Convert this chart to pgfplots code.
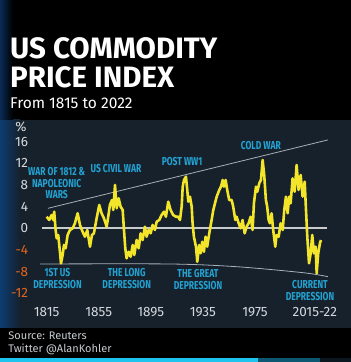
\documentclass[border=0pt]{standalone}
\usepackage{pgfplots}
\pgfplotsset{compat=1.18}
\usepackage{fontspec}
\setmainfont{Fira Sans}
\newfontfamily\condfont[FakeStretch=0.74]{Fira Sans}
\definecolor{bgpanel}{HTML}{16212C}
\definecolor{glowblue}{HTML}{0C3D72}
\definecolor{glowdark}{HTML}{0A2A55}
\definecolor{ylw}{HTML}{F2E52A}
\definecolor{cyanlbl}{HTML}{23A3D3}
\definecolor{tickgray}{HTML}{D5D9DE}
\definecolor{negor}{HTML}{E0651E}
\definecolor{trend}{HTML}{A8B0B8}
\definecolor{zeroline}{HTML}{C9CCCF}
\definecolor{cyanbar}{HTML}{1EC3EE}
\definecolor{tealbar}{HTML}{0C5872}
\definecolor{darkbar}{HTML}{0B1820}
\definecolor{foot}{HTML}{C8CCD0}

\pgfplotstableread{
x y
1815.0 2.14
1817.0 1.53
1818.8 2.45
1820.1 1.53
1820.8 3.06
1821.9 -0.31
1822.7 -1.85
1823.9 -1.24
1825.2 -4.32
1826.0 -6.46
1827.3 -4.93
1828.3 -3.08
1829.6 -3.69
1831.1 -1.24
1832.9 -0.31
1835.0 0.00
1836.7 0.92
1838.8 2.77
1840.6 0.61
1842.6 -0.63
1844.4 -1.55
1846.2 -0.31
1848.3 -3.39
1849.8 -1.24
1851.3 -0.92
1853.4 1.85
1855.4 4.30
1857.2 2.77
1859.0 1.85
1861.1 0.30
1862.3 2.14
1863.6 4.30
1865.2 5.22
1866.2 3.38
1867.5 7.99
1868.8 3.69
1870.3 5.54
1871.8 3.99
1873.4 3.38
1874.4 -0.31
1875.4 -3.69
1876.4 -5.54
1878.0 -4.32
1879.5 -5.24
1881.1 -3.08
1882.3 -4.93
1884.1 -2.16
1885.7 -3.69
1887.2 -0.92
1888.7 -2.16
1890.5 0.30
1891.8 -1.55
1893.3 -0.31
1894.9 -0.92
1896.4 0.61
1898.2 -0.31
1899.5 1.22
1901.5 1.53
1903.3 2.45
1905.1 3.06
1906.6 2.14
1908.4 4.91
1910.2 3.38
1912.2 2.45
1914.3 2.14
1916.1 2.14
1917.4 1.53
1918.7 3.99
1919.5 7.68
1920.5 8.91
1922.0 9.52
1923.0 7.07
1923.8 4.91
1925.1 5.83
1926.4 3.99
1927.1 0.92
1928.1 -1.55
1929.7 -3.39
1930.7 -6.16
1932.2 -3.08
1933.3 -4.61
1934.5 -2.47
1935.8 -4.32
1937.1 -1.55
1938.3 -3.39
1939.9 -0.92
1941.7 1.53
1943.0 3.38
1944.3 4.61
1945.6 5.83
1947.6 7.07
1948.9 7.68
1950.2 8.91
1951.2 7.68
1952.5 8.91
1953.7 7.07
1955.2 5.22
1957.1 5.22
1958.3 3.99
1959.9 1.53
1960.9 2.14
1962.5 0.92
1964.0 0.00
1965.5 1.53
1967.1 -0.92
1968.6 0.30
1970.1 0.92
1971.7 2.14
1973.2 -0.31
1974.2 4.61
1975.8 7.68
1976.8 6.75
1978.3 8.30
1979.6 8.91
1980.9 12.60
1982.1 9.83
1983.4 5.22
1984.4 3.99
1985.5 1.53
1986.5 0.92
1987.8 2.77
1989.0 -0.31
1990.6 -3.39
1991.6 -1.24
1993.2 -1.55
1994.7 0.92
1996.3 -0.31
1997.5 3.38
1998.8 5.83
2000.1 2.77
2001.3 5.83
2002.4 4.61
2003.9 9.22
2005.5 6.75
2007.0 11.68
2008.5 7.07
2010.1 9.83
2011.6 5.83
2013.2 8.60
2014.2 3.38
2015.2 -1.55
2016.5 -6.46
2017.8 -4.61
2019.0 -1.24
2020.3 -4.61
2021.6 -3.39
2022.4 -8.30
2023.6 -4.61
2024.9 -2.77
2025.7 -2.16
}\priceindex

\begin{document}
\begin{tikzpicture}[x=1pt,y=1pt]
\useasboundingbox (0,0) rectangle (351,362);
\fill[black] (0,0) rectangle (351,362);
\fill[bgpanel] (0,34) rectangle (351,242);
\shade[left color=glowblue, right color=bgpanel] (0,34) rectangle (20,242);
\shade[left color=glowdark, right color=black] (0,242) rectangle (13,362);
\fill[cyanbar] (0,0) rectangle (258,3.7);
\fill[tealbar] (258,0) rectangle (320,3.7);
\fill[darkbar] (320,0) rectangle (351,3.7);

% titles
\node[anchor=base west, inner sep=0pt, text=white, font=\bfseries\fontsize{29.5}{30}\selectfont] at (10,303.7) {US COMMODITY};
\node[anchor=base west, inner sep=0pt, text=white, font=\bfseries\fontsize{29.5}{30}\selectfont] at (10,274.3) {PRICE INDEX};
\node[anchor=base west, inner sep=0pt, text=white, font=\fontsize{15.5}{16}\selectfont] at (10,253.7) {From 1815 to 2022};
\node[anchor=base west, inner sep=0pt, text=foot, font=\fontsize{11}{12}\selectfont] at (8.3,22) {Source: Reuters};
\node[anchor=base west, inner sep=0pt, text=foot, font=\fontsize{11}{12}\selectfont] at (8.3,9.3) {Twitter @AlanKohler};

\begin{axis}[
  at={(41.7pt,63.2pt)}, anchor=south west,
  scale only axis, width=285pt, height=168.1pt,
  xmin=1811.2, xmax=2030.1, ymin=-13, ymax=18,
  axis line style={draw=none}, major tick length=0pt,
  xtick={1815,1855,1895,1935,1975,2021},
  xticklabels={1815,1855,1895,1935,1975,2015-22},
  ytick={-12,-8,-4,0,4,8,12,16},
  yticklabels={\textcolor{negor}{-12},\textcolor{negor}{-8},\textcolor{negor}{-4},0,4,8,12,16},
  tick label style={font=\fontsize{13.5}{14}\selectfont, text=tickgray},
  yticklabel style={xshift=-10pt},
  xticklabel style={yshift=-5.4pt},
  clip=false,
]
\addplot[trend, line width=0.8pt] coordinates {(1816.0,3.69) (2031.0,16.3)};
\addplot[trend, line width=0.8pt, smooth] coordinates {(1809.9,-6.58) (1909.7,-6.58) (1960.9,-7.08) (2012.1,-8.19) (2031.0,-8.92)};
\addplot[zeroline, line width=2pt] coordinates {(1811.2,0) (2030.1,0)};
\addplot[ylw, line width=2.6pt, line join=round] table[x=x,y=y] {\priceindex};
\end{axis}

\node[text=tickgray, font=\fontsize{13.5}{14}\selectfont] at (21,235) {\%};

\begin{scope}[every node/.style={text=cyanlbl, align=center, inner sep=0pt, font=\condfont\bfseries\fontsize{11.5}{11.7}\selectfont}]
\node at (56.7,178.7) {WAR OF 1812 \&\\NAPOLEONIC\\WARS};
\node at (116,193.7) {US CIVIL WAR};
\node at (182,200) {POST WW1};
\node at (260.8,216) {COLD WAR};
\node at (57.5,83.2) {1ST US\\DEPRESSION};
\node at (126.7,83.2) {THE LONG\\DEPRESSION};
\node at (198,82.3) {THE GREAT\\DEPRESSION};
\node at (310,71.8) {CURRENT\\DEPRESSION};
\end{scope}
\end{tikzpicture}
\end{document}
